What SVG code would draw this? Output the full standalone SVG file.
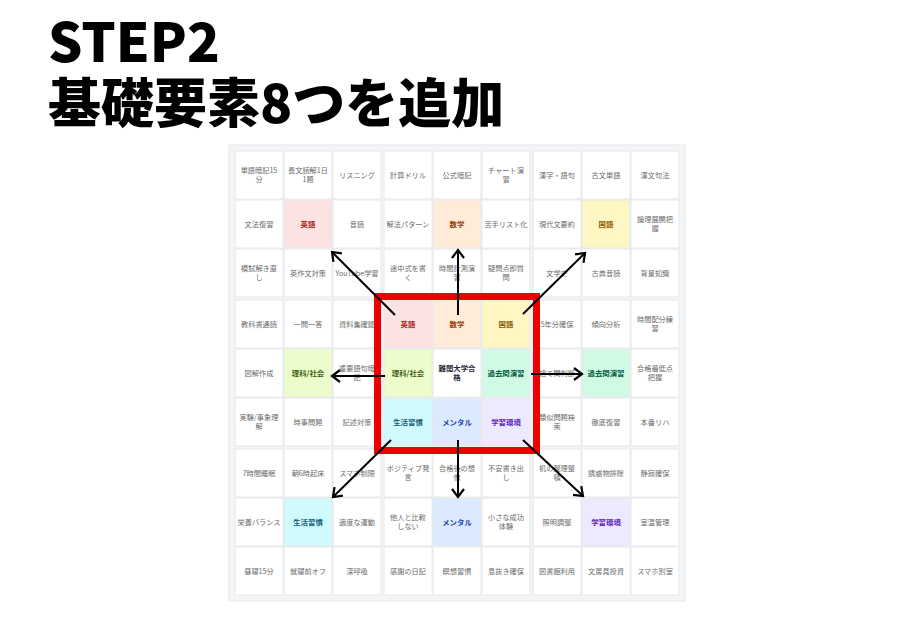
<svg xmlns="http://www.w3.org/2000/svg" width="916" height="630" viewBox="0 0 916 630">
<defs>
<style>
.title{font-family:"Noto Sans CJK JP","Liberation Sans",sans-serif;font-weight:900;fill:#000}
.cell{fill:#fff;stroke:#e6e8eb;stroke-width:1}
.t{font-family:"Noto Sans CJK JP","Liberation Sans",sans-serif;font-size:7.2px;fill:#6b6b6b;text-anchor:middle}
.k{font-family:"Noto Sans CJK JP","Liberation Sans",sans-serif;font-size:7.4px;font-weight:bold;text-anchor:middle}
.arrow{stroke:#000;stroke-width:2;fill:none;marker-end:url(#ah)}
</style>
<marker id="ah" markerUnits="userSpaceOnUse" markerWidth="14" markerHeight="14" refX="11" refY="7" orient="auto">
<path d="M3,1 L11,7 L3,13" fill="none" stroke="#000" stroke-width="2.2"/>
</marker>
</defs>
<rect width="916" height="630" fill="#fff"/>
<text class="title" x="48" y="62" font-size="54">STEP2</text>
<text class="title" x="48" y="123" font-size="53">基礎要素8つを追加</text>

<rect x="229" y="145" width="456" height="456" fill="#f4f5f7" stroke="#e5e7eb" stroke-width="1"/>

<!-- Block 英語 -->
<g id="n-eigo-1"><rect class="cell" x="235" y="151" width="48" height="48"/><text class="t"><tspan x="259" y="173">単語暗記15</tspan><tspan x="259" y="182">分</tspan></text></g>
<g id="n-eigo-2"><rect class="cell" x="284" y="151" width="48" height="48"/><text class="t"><tspan x="308" y="173">長文読解1日</tspan><tspan x="308" y="182">1題</tspan></text></g>
<g id="n-eigo-3"><rect class="cell" x="333" y="151" width="48" height="48"/><text class="t" x="357" y="177.5">リスニング</text></g>
<g id="n-eigo-4"><rect class="cell" x="235" y="200" width="48" height="48"/><text class="t" x="259" y="226.5">文法復習</text></g>
<g id="n-eigo-c"><rect class="cell" x="284" y="200" width="48" height="48" style="fill:#fde2e2"/><text class="k" x="308" y="226.5" fill="#a61b1b">英語</text></g>
<g id="n-eigo-6"><rect class="cell" x="333" y="200" width="48" height="48"/><text class="t" x="357" y="226.5">音読</text></g>
<g id="n-eigo-7"><rect class="cell" x="235" y="249" width="48" height="48"/><text class="t"><tspan x="259" y="271">模試解き直</tspan><tspan x="259" y="280">し</tspan></text></g>
<g id="n-eigo-8"><rect class="cell" x="284" y="249" width="48" height="48"/><text class="t" x="308" y="275.5">英作文対策</text></g>
<g id="n-eigo-9"><rect class="cell" x="333" y="249" width="48" height="48"/><text class="t" x="357" y="275.5">YouTube学習</text></g>

<!-- Block 数学 -->
<g id="n-sugaku-1"><rect class="cell" x="384" y="151" width="48" height="48"/><text class="t" x="408" y="177.5">計算ドリル</text></g>
<g id="n-sugaku-2"><rect class="cell" x="433" y="151" width="48" height="48"/><text class="t" x="457" y="177.5">公式暗記</text></g>
<g id="n-sugaku-3"><rect class="cell" x="482" y="151" width="48" height="48"/><text class="t"><tspan x="506" y="173">チャート演</tspan><tspan x="506" y="182">習</tspan></text></g>
<g id="n-sugaku-4"><rect class="cell" x="384" y="200" width="48" height="48"/><text class="t" x="408" y="226.5">解法パターン</text></g>
<g id="n-sugaku-c"><rect class="cell" x="433" y="200" width="48" height="48" style="fill:#feecd8"/><text class="k" x="457" y="226.5" fill="#9a3d0c">数学</text></g>
<g id="n-sugaku-6"><rect class="cell" x="482" y="200" width="48" height="48"/><text class="t" x="506" y="226.5">苦手リスト化</text></g>
<g id="n-sugaku-7"><rect class="cell" x="384" y="249" width="48" height="48"/><text class="t"><tspan x="408" y="271">途中式を書</tspan><tspan x="408" y="280">く</tspan></text></g>
<g id="n-sugaku-8"><rect class="cell" x="433" y="249" width="48" height="48"/><text class="t"><tspan x="457" y="271">時間計測演</tspan><tspan x="457" y="280">習</tspan></text></g>
<g id="n-sugaku-9"><rect class="cell" x="482" y="249" width="48" height="48"/><text class="t"><tspan x="506" y="271">疑問点即質</tspan><tspan x="506" y="280">問</tspan></text></g>

<!-- Block 国語 -->
<g id="n-kokugo-1"><rect class="cell" x="533" y="151" width="48" height="48"/><text class="t" x="557" y="177.5">漢字・語句</text></g>
<g id="n-kokugo-2"><rect class="cell" x="582" y="151" width="48" height="48"/><text class="t" x="606" y="177.5">古文単語</text></g>
<g id="n-kokugo-3"><rect class="cell" x="631" y="151" width="48" height="48"/><text class="t" x="655" y="177.5">漢文句法</text></g>
<g id="n-kokugo-4"><rect class="cell" x="533" y="200" width="48" height="48"/><text class="t" x="557" y="226.5">現代文要約</text></g>
<g id="n-kokugo-c"><rect class="cell" x="582" y="200" width="48" height="48" style="fill:#fef7c3"/><text class="k" x="606" y="226.5" fill="#8a5a00">国語</text></g>
<g id="n-kokugo-6"><rect class="cell" x="631" y="200" width="48" height="48"/><text class="t"><tspan x="655" y="222">論理展開把</tspan><tspan x="655" y="231">握</tspan></text></g>
<g id="n-kokugo-7"><rect class="cell" x="533" y="249" width="48" height="48"/><text class="t" x="557" y="275.5">文学史</text></g>
<g id="n-kokugo-8"><rect class="cell" x="582" y="249" width="48" height="48"/><text class="t" x="606" y="275.5">古典音読</text></g>
<g id="n-kokugo-9"><rect class="cell" x="631" y="249" width="48" height="48"/><text class="t" x="655" y="275.5">背景知識</text></g>

<!-- Block 理科/社会 -->
<g id="n-rika-1"><rect class="cell" x="235" y="300" width="48" height="48"/><text class="t" x="259" y="326.5">教科書通読</text></g>
<g id="n-rika-2"><rect class="cell" x="284" y="300" width="48" height="48"/><text class="t" x="308" y="326.5">一問一答</text></g>
<g id="n-rika-3"><rect class="cell" x="333" y="300" width="48" height="48"/><text class="t" x="357" y="326.5">資料集確認</text></g>
<g id="n-rika-4"><rect class="cell" x="235" y="349" width="48" height="48"/><text class="t" x="259" y="375.5">図解作成</text></g>
<g id="n-rika-c"><rect class="cell" x="284" y="349" width="48" height="48" style="fill:#ecfccb"/><text class="k" x="308" y="375.5" fill="#3f6212">理科/社会</text></g>
<g id="n-rika-6"><rect class="cell" x="333" y="349" width="48" height="48"/><text class="t"><tspan x="357" y="371">重要語句暗</tspan><tspan x="357" y="380">記</tspan></text></g>
<g id="n-rika-7"><rect class="cell" x="235" y="398" width="48" height="48"/><text class="t"><tspan x="259" y="420">実験/事象理</tspan><tspan x="259" y="429">解</tspan></text></g>
<g id="n-rika-8"><rect class="cell" x="284" y="398" width="48" height="48"/><text class="t" x="308" y="424.5">時事問題</text></g>
<g id="n-rika-9"><rect class="cell" x="333" y="398" width="48" height="48"/><text class="t" x="357" y="424.5">記述対策</text></g>

<!-- Center block -->
<g id="n-center-eigo"><rect class="cell" x="384" y="300" width="48" height="48" style="fill:#fde2e2"/><text class="k" x="408" y="326.5" fill="#a61b1b">英語</text></g>
<g id="n-center-sugaku"><rect class="cell" x="433" y="300" width="48" height="48" style="fill:#feecd8"/><text class="k" x="457" y="326.5" fill="#9a3d0c">数学</text></g>
<g id="n-center-kokugo"><rect class="cell" x="482" y="300" width="48" height="48" style="fill:#fef7c3"/><text class="k" x="506" y="326.5" fill="#8a5a00">国語</text></g>
<g id="n-center-rika"><rect class="cell" x="384" y="349" width="48" height="48" style="fill:#ecfccb"/><text class="k" x="408" y="375.5" fill="#3f6212">理科/社会</text></g>
<g id="n-goal"><rect class="cell" x="433" y="349" width="48" height="48"/><text class="k" fill="#1f2937"><tspan x="457" y="370.5">難関大学合</tspan><tspan x="457" y="380">格</tspan></text></g>
<g id="n-center-kakomon"><rect class="cell" x="482" y="349" width="48" height="48" style="fill:#d1fae5"/><text class="k" x="506" y="375.5" fill="#065f46">過去問演習</text></g>
<g id="n-center-seikatsu"><rect class="cell" x="384" y="398" width="48" height="48" style="fill:#cffafe"/><text class="k" x="408" y="424.5" fill="#155e75">生活習慣</text></g>
<g id="n-center-mental"><rect class="cell" x="433" y="398" width="48" height="48" style="fill:#dbeafe"/><text class="k" x="457" y="424.5" fill="#1e40af">メンタル</text></g>
<g id="n-center-kankyo"><rect class="cell" x="482" y="398" width="48" height="48" style="fill:#ede9fe"/><text class="k" x="506" y="424.5" fill="#5b21b6">学習環境</text></g>

<!-- Block 過去問演習 -->
<g id="n-kakomon-1"><rect class="cell" x="533" y="300" width="48" height="48"/><text class="t" x="557" y="326.5">5年分確保</text></g>
<g id="n-kakomon-2"><rect class="cell" x="582" y="300" width="48" height="48"/><text class="t" x="606" y="326.5">傾向分析</text></g>
<g id="n-kakomon-3"><rect class="cell" x="631" y="300" width="48" height="48"/><text class="t"><tspan x="655" y="322">時間配分練</tspan><tspan x="655" y="331">習</tspan></text></g>
<g id="n-kakomon-4"><rect class="cell" x="533" y="349" width="48" height="48"/><text class="t" x="557" y="375.5">捨て問判断</text></g>
<g id="n-kakomon-c"><rect class="cell" x="582" y="349" width="48" height="48" style="fill:#d1fae5"/><text class="k" x="606" y="375.5" fill="#065f46">過去問演習</text></g>
<g id="n-kakomon-6"><rect class="cell" x="631" y="349" width="48" height="48"/><text class="t"><tspan x="655" y="371">合格最低点</tspan><tspan x="655" y="380">把握</tspan></text></g>
<g id="n-kakomon-7"><rect class="cell" x="533" y="398" width="48" height="48"/><text class="t"><tspan x="557" y="420">類似問題検</tspan><tspan x="557" y="429">索</tspan></text></g>
<g id="n-kakomon-8"><rect class="cell" x="582" y="398" width="48" height="48"/><text class="t" x="606" y="424.5">徹底復習</text></g>
<g id="n-kakomon-9"><rect class="cell" x="631" y="398" width="48" height="48"/><text class="t" x="655" y="424.5">本番リハ</text></g>

<!-- Block 生活習慣 -->
<g id="n-seikatsu-1"><rect class="cell" x="235" y="449" width="48" height="48"/><text class="t" x="259" y="475.5">7時間睡眠</text></g>
<g id="n-seikatsu-2"><rect class="cell" x="284" y="449" width="48" height="48"/><text class="t" x="308" y="475.5">朝6時起床</text></g>
<g id="n-seikatsu-3"><rect class="cell" x="333" y="449" width="48" height="48"/><text class="t" x="357" y="475.5">スマホ制限</text></g>
<g id="n-seikatsu-4"><rect class="cell" x="235" y="498" width="48" height="48"/><text class="t" x="259" y="524.5">栄養バランス</text></g>
<g id="n-seikatsu-c"><rect class="cell" x="284" y="498" width="48" height="48" style="fill:#cffafe"/><text class="k" x="308" y="524.5" fill="#155e75">生活習慣</text></g>
<g id="n-seikatsu-6"><rect class="cell" x="333" y="498" width="48" height="48"/><text class="t" x="357" y="524.5">適度な運動</text></g>
<g id="n-seikatsu-7"><rect class="cell" x="235" y="547" width="48" height="48"/><text class="t" x="259" y="573.5">昼寝15分</text></g>
<g id="n-seikatsu-8"><rect class="cell" x="284" y="547" width="48" height="48"/><text class="t" x="308" y="573.5">就寝前オフ</text></g>
<g id="n-seikatsu-9"><rect class="cell" x="333" y="547" width="48" height="48"/><text class="t" x="357" y="573.5">深呼吸</text></g>

<!-- Block メンタル -->
<g id="n-mental-1"><rect class="cell" x="384" y="449" width="48" height="48"/><text class="t"><tspan x="408" y="471">ポジティブ発</tspan><tspan x="408" y="480">言</tspan></text></g>
<g id="n-mental-2"><rect class="cell" x="433" y="449" width="48" height="48"/><text class="t"><tspan x="457" y="471">合格後の想</tspan><tspan x="457" y="480">像</tspan></text></g>
<g id="n-mental-3"><rect class="cell" x="482" y="449" width="48" height="48"/><text class="t"><tspan x="506" y="471">不安書き出</tspan><tspan x="506" y="480">し</tspan></text></g>
<g id="n-mental-4"><rect class="cell" x="384" y="498" width="48" height="48"/><text class="t"><tspan x="408" y="520">他人と比較</tspan><tspan x="408" y="529">しない</tspan></text></g>
<g id="n-mental-c"><rect class="cell" x="433" y="498" width="48" height="48" style="fill:#dbeafe"/><text class="k" x="457" y="524.5" fill="#1e40af">メンタル</text></g>
<g id="n-mental-6"><rect class="cell" x="482" y="498" width="48" height="48"/><text class="t"><tspan x="506" y="520">小さな成功</tspan><tspan x="506" y="529">体験</tspan></text></g>
<g id="n-mental-7"><rect class="cell" x="384" y="547" width="48" height="48"/><text class="t" x="408" y="573.5">感謝の日記</text></g>
<g id="n-mental-8"><rect class="cell" x="433" y="547" width="48" height="48"/><text class="t" x="457" y="573.5">瞑想習慣</text></g>
<g id="n-mental-9"><rect class="cell" x="482" y="547" width="48" height="48"/><text class="t" x="506" y="573.5">息抜き確保</text></g>

<!-- Block 学習環境 -->
<g id="n-kankyo-1"><rect class="cell" x="533" y="449" width="48" height="48"/><text class="t"><tspan x="557" y="471">机の整理整</tspan><tspan x="557" y="480">頓</tspan></text></g>
<g id="n-kankyo-2"><rect class="cell" x="582" y="449" width="48" height="48"/><text class="t" x="606" y="475.5">誘惑物排除</text></g>
<g id="n-kankyo-3"><rect class="cell" x="631" y="449" width="48" height="48"/><text class="t" x="655" y="475.5">静寂確保</text></g>
<g id="n-kankyo-4"><rect class="cell" x="533" y="498" width="48" height="48"/><text class="t" x="557" y="524.5">照明調整</text></g>
<g id="n-kankyo-c"><rect class="cell" x="582" y="498" width="48" height="48" style="fill:#ede9fe"/><text class="k" x="606" y="524.5" fill="#5b21b6">学習環境</text></g>
<g id="n-kankyo-6"><rect class="cell" x="631" y="498" width="48" height="48"/><text class="t" x="655" y="524.5">室温管理</text></g>
<g id="n-kankyo-7"><rect class="cell" x="533" y="547" width="48" height="48"/><text class="t" x="557" y="573.5">図書館利用</text></g>
<g id="n-kankyo-8"><rect class="cell" x="582" y="547" width="48" height="48"/><text class="t" x="606" y="573.5">文房具投資</text></g>
<g id="n-kankyo-9"><rect class="cell" x="631" y="547" width="48" height="48"/><text class="t" x="655" y="573.5">スマホ別室</text></g>

<g id="highlight"><rect x="377.5" y="296.5" width="159" height="154" fill="none" stroke="#ee0000" stroke-width="7"/></g>

<g id="connectors">
<line class="arrow" x1="395" y1="315" x2="332" y2="252"/>
<line class="arrow" x1="458" y1="315" x2="458" y2="250"/>
<line class="arrow" x1="523" y1="314" x2="585" y2="253"/>
<line class="arrow" x1="385" y1="376" x2="332" y2="376"/>
<line class="arrow" x1="531" y1="374" x2="582" y2="374"/>
<line class="arrow" x1="391" y1="440" x2="333" y2="497"/>
<line class="arrow" x1="458" y1="440" x2="458" y2="497"/>
<line class="arrow" x1="523" y1="440" x2="583" y2="496"/>
</g>
</svg>
